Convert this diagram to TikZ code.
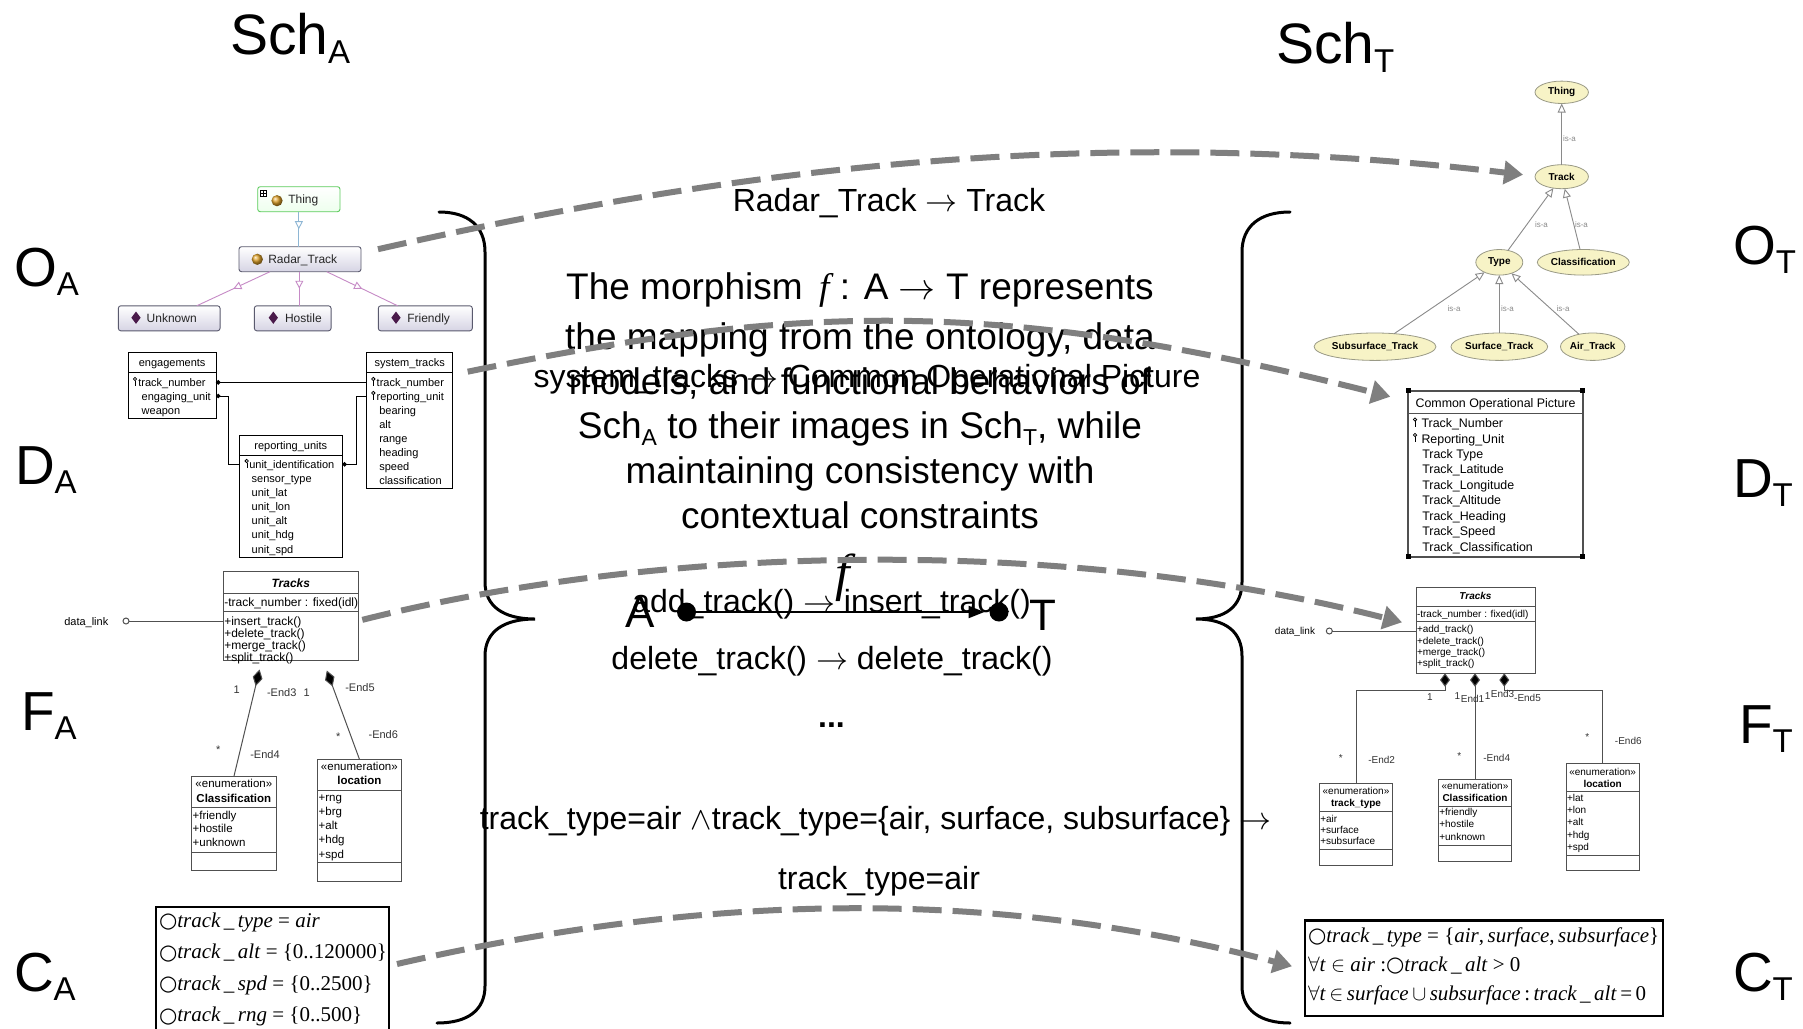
\RequirePackage{fix-cm}
\documentclass[tikz,border=0pt]{standalone}
\usepackage{fontspec}
\usepackage{graphicx}
\setmainfont{Liberation Sans}
\newfontfamily\tnr{Liberation Serif}
\newfontfamily\dvs{DejaVu Sans}
\usetikzlibrary{arrows.meta,decorations.markings,calc,shapes.geometric}

\newcommand\fs[1]{\fontsize{#1}{#1}\selectfont}
\newcommand\lbl[2]{#1\raisebox{-9pt}{\fs{33}#2}}
\newcommand\psub[2]{#1\raisebox{-7pt}{\fs{23}#2}}
\newcommand\alw{{\dvs\fs{21}\raisebox{-0.5pt}{○}}}
\newcommand\us{\,\_\,}
\newcommand\erkey[2]{\draw[line width=0.75pt] (#1,#2) circle (1.7pt); \draw[line width=0.75pt] (#1+0.3,#2+1.7) -- (#1+0.3,#2+7);}

\definecolor{mapgray}{HTML}{7F7F7F}
\definecolor{owlline}{HTML}{5A5A6E}
\definecolor{owlfill}{HTML}{D6D4E4}
\definecolor{thinggreen}{HTML}{5CCB5C}
\definecolor{orangedot}{HTML}{E0A228}
\definecolor{indiv}{HTML}{4A1A4A}
\definecolor{subblue}{HTML}{8EB6D4}
\definecolor{subpink}{HTML}{C68AC6}
\definecolor{ellfill}{HTML}{F7F3C6}
\definecolor{ellline}{HTML}{9A9A86}
\definecolor{umlgray}{HTML}{505050}
\definecolor{isagray}{HTML}{8A8A8A}
\definecolor{lblgray}{HTML}{333333}

\tikzset{
  ctxt/.style={font=\fs{32},anchor=base},
  ptxt/.style={font=\fs{37},anchor=base},
  sidelbl/.style={font=\fs{55},anchor=base west},
  maparrow/.style={draw=mapgray,line width=6pt,dash pattern=on 29pt off 11pt,-{Triangle[length=19pt,width=23pt]}},
  bracestroke/.style={line width=3pt,line cap=round},
  owlbox/.style={draw=owlline,line width=0.9pt,rounded corners=2.5pt,top color=white,bottom color=owlfill,minimum height=25pt},
  owltxt/.style={font=\fs{12},anchor=base west,text=black!85},
  owlsub/.style={line width=0.9pt,postaction={decorate},decoration={markings,mark=at position 0.5 with {\arrow{Triangle[length=8pt,width=8pt,fill=white]}}}},
  ertab/.style={draw=black,line width=1pt,fill=white},
  ertxt/.style={font=\fs{11},anchor=base west},
  erhead/.style={font=\fs{11},anchor=base},
  erline/.style={draw=black,line width=1pt},
  umlbox/.style={draw=umlgray,line width=1pt,fill=white},
  umledge/.style={draw=umlgray,line width=1pt},
  umlA/.style={font=\fs{12},anchor=base west},
  umlT/.style={font=\fs{10},anchor=base west},
  enumA/.style={font=\fs{11.5},anchor=base west},
  enumT/.style={font=\fs{10},anchor=base west},
  endA/.style={font=\fs{11},anchor=base,text=lblgray},
  endT/.style={font=\fs{10},anchor=base,text=lblgray},
  ell/.style={ellipse,draw=ellline,line width=0.8pt,fill=ellfill,font=\bfseries\fs{10}},
  isa/.style={draw=isagray,line width=0.9pt,-{Triangle[length=9pt,width=8pt,fill=white]}},
  isalbl/.style={font=\fs{8},text=isagray,anchor=base west},
  cbox/.style={draw=black,line width=2.5pt},
  ctext/.style={font=\tnr\fs{21},anchor=base west},
}

\begin{document}
\begin{tikzpicture}[x=1pt,y=-1pt,every node/.style={inner sep=0pt,outer sep=0pt}]
\useasboundingbox (0,0) rectangle (1803,1028);
\fill[white] (0,0) rectangle (1803,1028);

% ---------- headings and row labels ----------
\node[anchor=base west,font=\fs{57}] (schA) at (230,54) {\lbl{Sch}{A}};
\node[anchor=base west,font=\fs{57}] (schT) at (1276,63) {\lbl{Sch}{T}};
\node[sidelbl] (oA) at (14,286) {\lbl{O}{A}};
\node[sidelbl] (dA) at (15,484) {\lbl{D}{A}};
\node[sidelbl] (fA) at (21,730) {\lbl{F}{A}};
\node[sidelbl] (cAl) at (14,991) {\lbl{C}{A}};
\node[sidelbl] (oT) at (1733,264) {\lbl{O}{T}};
\node[sidelbl] (dT) at (1733,497) {\lbl{D}{T}};
\node[sidelbl] (fT) at (1739,743) {\lbl{F}{T}};
\node[sidelbl] (cTl) at (1733,991) {\lbl{C}{T}};

% ---------- braces ----------
\draw[bracestroke] (439,212) .. controls (468,212) and (485,226) .. (485,252) -- (485,582)
  .. controls (485,606) and (503,619) .. (535,619) .. controls (503,619) and (485,632) .. (485,656)
  -- (485,986) .. controls (485,1010) and (468,1023) .. (437,1023);
\draw[bracestroke] (1290,212) .. controls (1260,212) and (1242,226) .. (1242,252) -- (1242,582)
  .. controls (1242,606) and (1226,619) .. (1196,619) .. controls (1226,619) and (1242,632) .. (1242,656)
  -- (1242,986) .. controls (1242,1010) and (1260,1023) .. (1290,1023);

% ---------- source ontology ----------
\node[owlbox,draw=thinggreen,bottom color=green!7,minimum width=82.3pt] (thingA) at (298.85,199.2) {};
\node[owlbox,minimum width=122pt] (radarA) at (300,259.2) {};
\node[owlbox,minimum width=101.7pt] (unkA) at (169.2,318.3) {};
\node[owlbox,minimum width=76.7pt] (hostA) at (292.7,318.3) {};
\node[owlbox,minimum width=94pt] (friA) at (425.3,318.3) {};
\draw[line width=0.6pt,fill=white] (260,190) rectangle (266.7,196.7);
\draw[line width=0.6pt] (261.2,193.35) -- (265.5,193.35) (263.35,191.2) -- (263.35,195.5);
\shade[ball color=orangedot] (277,200.7) circle (5.6pt);
\shade[ball color=orangedot] (257.3,259.3) circle (5.6pt);
\node[owltxt] (thingAt) at (288.3,203.4) {Thing};
\node[owltxt] (radarAt) at (268.3,263.5) {Radar\_Track};
\foreach \cx/\nm/\tx/\tt in {136/unk/146.7/Unknown,273.3/host/285/Hostile,396/fri/407.3/Friendly}{
  \fill[indiv] (\cx,311.5) -- (\cx+4.6,317.7) -- (\cx,323.9) -- (\cx-4.6,317.7) -- cycle;
  \node[owltxt] (\nm At) at (\tx,322.5) {\tt};
}
\draw[owlsub,subblue] (thingA.south) -- (thingA.south |- radarA.north);
\draw[owlsub,subpink] ($(radarA.south)+(-30,0)$) -- ($(unkA.north)+(27.5,0)$);
\draw[owlsub,subpink] ($(radarA.south)+(-0.7,0)$) -- ($(hostA.north)+(6.6,0)$);
\draw[owlsub,subpink] ($(radarA.south)+(26.7,0)$) -- ($(friA.north)+(-27.6,0)$);

% ---------- source data model ----------
\node[ertab,minimum width=87.7pt,minimum height=65.6pt] (engA) at (172.15,385.5) {};
\node[ertab,minimum width=86pt,minimum height=135.6pt] (stA) at (409.7,420.5) {};
\node[ertab,minimum width=103pt,minimum height=122.3pt] (rpA) at (290.8,496.15) {};
\foreach \b in {engA,stA,rpA}{\draw[line width=1pt] ($(\b.north west)+(0,20)$) -- ($(\b.north east)+(0,20)$);}
\node[erhead] (engH) at (172.15,366.5) {engagements};
\node[erhead] (stH) at (409.7,366.5) {system\_tracks};
\node[erhead] (rpH) at (290.8,449) {reporting\_units};
\node[ertxt] (eng0) at (138.3,386.3) {track\_number};
\node[ertxt] (eng1) at (141.7,400.1) {engaging\_unit};
\node[ertxt] (eng2) at (141.7,414) {weapon};
\node[ertxt] (st0) at (376.7,386.3) {track\_number};
\node[ertxt] (st1) at (376.7,400.3) {reporting\_unit};
\foreach \t [count=\i from 2] in {bearing,alt,range,heading,speed,classification}{
  \node[ertxt] (st\i) at (379.3,386.3+\i*13.96) {\t};}
\node[ertxt] (rp0) at (249.3,468.3) {unit\_identification};
\foreach \t [count=\i from 1] in {sensor\_type,unit\_lat,unit\_lon,unit\_alt,unit\_hdg,unit\_spd}{
  \node[ertxt] (rp\i) at (251.7,468.3+\i*14.12) {\t};}
\erkey{135}{379}
\erkey{373.3}{379}
\erkey{373.3}{393}
\erkey{246.7}{461}
\coordinate (rowa) at (0,382.3);
\coordinate (rowb) at (0,396);
\coordinate (rowc) at (0,464.3);
\draw[erline,{Circle[length=4.5pt]}-] (engA.east |- rowa) -- (stA.west |- rowa);
\draw[erline,{Circle[length=4.5pt]}-] (engA.east |- rowb) -- ++(12,0) |- (rpA.west |- rowc);
\draw[erline,{Circle[length=4.5pt]}-] (rpA.east |- rowc) -- ++(14.4,0) |- (stA.west |- rowb);

% ---------- source functional model ----------
\node[umlbox,minimum width=135pt,minimum height=88.3pt] (trkA) at (290.8,615.85) {};
\draw[umledge] ($(trkA.north west)+(0,21.6)$) -- ($(trkA.north east)+(0,21.6)$);
\draw[umledge] ($(trkA.north west)+(0,39.3)$) -- ($(trkA.north east)+(0,39.3)$);
\node[font=\bfseries\itshape\fs{12},anchor=base] (trkAt) at (290.8,587) {Tracks};
\node[umlA] (trkAa) at (224.3,606) {-track\_number : fixed(idl)};
\foreach \t [count=\i from 0] in {+insert\_track(),+delete\_track(),+merge\_track(),+split\_track()}{
  \node[umlA] (trkAm\i) at (224.3,625.3+\i*11.9) {\t};}
\node[font=\fs{11},anchor=base east] (dlA) at (108.3,625) {data\_link};
\node[circle,draw=umlgray,line width=1pt,fill=white,minimum size=6pt] (dlcA) at (126,621) {};
\draw[umledge] (dlcA) -- (dlcA -| trkA.west);

\node[umlbox,minimum width=84.3pt,minimum height=93.3pt] (clsA) at (233.85,823.35) {};
\draw[umledge] ($(clsA.north west)+(0,30.6)$) -- ($(clsA.north east)+(0,30.6)$);
\draw[umledge] ($(clsA.north west)+(0,75.6)$) -- ($(clsA.north east)+(0,75.6)$);
\node[font=\fs{11.5},anchor=base] (clsAs) at (233.85,787.3) {«enumeration»};
\node[font=\bfseries\fs{11.5},anchor=base] (clsAn) at (233.85,802.5) {Classification};
\foreach \t [count=\i from 0] in {+friendly,+hostile,+unknown}{
  \node[enumA] (clsAr\i) at (192.7,819+\i*13.85) {\t};}

\node[umlbox,minimum width=83.3pt,minimum height=122pt] (locA) at (359.35,820) {};
\draw[umledge] ($(locA.north west)+(0,31)$) -- ($(locA.north east)+(0,31)$);
\draw[umledge] ($(locA.north west)+(0,103.7)$) -- ($(locA.north east)+(0,103.7)$);
\node[font=\fs{11.5},anchor=base] (locAs) at (359.35,770.7) {«enumeration»};
\node[font=\bfseries\fs{11.5},anchor=base] (locAn) at (359.35,784.9) {location};
\foreach \t [count=\i from 0] in {+rng,+brg,+alt,+hdg,+spd}{
  \node[enumA] (locAr\i) at (318.7,801.3+\i*14.2) {\t};}

\coordinate (dgA1) at (259.6,669.5);
\coordinate (dgA2) at (326.8,670.5);
\draw[umledge,{Diamond[length=17pt,width=10pt,fill=black]}-] (dgA1) -- (clsA.north);
\draw[umledge,{Diamond[length=17pt,width=10pt,fill=black]}-] (dgA2) -- (locA.north);
\node[endA] (eA1) at (236.7,693) {1};
\node[endA] (eA2) at (281.7,696.5) {-End3};
\node[endA] (eA3) at (306.7,696.5) {1};
\node[endA] (eA4) at (360,691) {-End5};
\node[endA] (eA5) at (218.3,753) {*};
\node[endA] (eA6) at (265,758) {-End4};
\node[endA] (eA7) at (338.3,740) {*};
\node[endA] (eA8) at (383.3,738) {-End6};

% ---------- source constraints ----------
\node[cbox,minimum width=233pt,minimum height=133pt] (cA) at (272.5,973.5) {};
\node[ctext] (cA1) at (159,927) {\alw\textit{track\us type} = \textit{air}};
\node[ctext] (cA2) at (159,958.5) {\alw\textit{track\us alt} = \{0..120000\}};
\node[ctext] (cA3) at (159,990) {\alw\textit{track\us spd} = \{0..2500\}};
\node[ctext] (cA4) at (159,1021.5) {\alw\textit{track\us rng} = \{0..500\}};

% ---------- target ontology ----------
\node[ell,minimum width=53.4pt,minimum height=22.4pt] (thingT) at (1561.7,92.3) {Thing};
\node[ell,minimum width=53.4pt,minimum height=24pt] (trackT) at (1561.7,176.7) {Track};
\node[ell,minimum width=47pt,minimum height=25.6pt] (typeT) at (1499.3,262.3) {Type};
\node[ell,minimum width=90pt,minimum height=25.6pt] (classT) at (1583.3,262.3) {Classification};
\node[ell,minimum width=106.6pt,minimum height=27.4pt] (subT) at (1375,346.7) {Subsurface\_Track};
\node[ell,minimum width=87.6pt,minimum height=27.4pt] (surfT) at (1499.3,346.7) {Surface\_Track};
\node[ell,minimum width=63.4pt,minimum height=27.4pt] (airT) at (1592.7,346.7) {Air\_Track};
\draw[isa] (trackT) -- (thingT);
\draw[isa] (typeT) -- (trackT);
\draw[isa] (classT) -- (trackT);
\draw[isa] (subT) -- (typeT);
\draw[isa] (surfT) -- (typeT);
\draw[isa] (airT) -- (typeT);
\node[isalbl] (isa1) at (1563,141) {is-a};
\node[isalbl] (isa2) at (1535,227) {is-a};
\node[isalbl] (isa3) at (1575,227) {is-a};
\node[isalbl] (isa4) at (1447.7,311) {is-a};
\node[isalbl] (isa5) at (1501,311) {is-a};
\node[isalbl] (isa6) at (1556.7,311) {is-a};

% ---------- target data model ----------
\node[draw=umlgray,line width=1.8pt,fill=white,minimum width=174.4pt,minimum height=166pt] (copT) at (1495.5,473.7) {};
\draw[umlgray,line width=1.2pt] ($(copT.north west)+(0,22.6)$) -- ($(copT.north east)+(0,22.6)$);
\foreach \c in {north west,north east,south west,south east}{\fill (copT.\c) ++(-2.6,-2.6) rectangle ++(5.2,5.2);}
\node[font=\fs{12.4},anchor=base] (copH) at (1495.5,407) {Common Operational Picture};
\node[font=\fs{12.4},anchor=base west] (cop0) at (1421.5,427.6) {Track\_Number};
\node[font=\fs{12.4},anchor=base west] (cop1) at (1421.5,443) {Reporting\_Unit};
\foreach \t [count=\i from 2] in {Track Type,Track\_Latitude,Track\_Longitude,Track\_Altitude,Track\_Heading,Track\_Speed,Track\_Classification}{
  \node[font=\fs{12.4},anchor=base west] (cop\i) at (1422.3,427.6+\i*15.43) {\t};}
\erkey{1415}{419.5}
\erkey{1415}{435}

% ---------- target functional model ----------
\node[umlbox,minimum width=119pt,minimum height=86pt] (trkT) at (1475.5,630.3) {};
\draw[umledge] ($(trkT.north west)+(0,18.7)$) -- ($(trkT.north east)+(0,18.7)$);
\draw[umledge] ($(trkT.north west)+(0,34.4)$) -- ($(trkT.north east)+(0,34.4)$);
\node[font=\bfseries\itshape\fs{10},anchor=base] (trkTt) at (1475.5,599.3) {Tracks};
\node[umlT] (trkTa) at (1417,617) {-track\_number : fixed(idl)};
\foreach \t [count=\i from 0] in {+add\_track(),+delete\_track(),+merge\_track(),+split\_track()}{
  \node[umlT] (trkTm\i) at (1417,632.7+\i*11.4) {\t};}
\node[font=\fs{10},anchor=base east] (dlT) at (1315,634.5) {data\_link};
\node[circle,draw=umlgray,line width=1pt,fill=white,minimum size=6pt] (dlcT) at (1329.3,631) {};
\draw[umledge] (dlcT) -- (dlcT -| trkT.west);

\node[umlbox,minimum width=73.4pt,minimum height=81.7pt] (ttT) at (1356,824.15) {};
\draw[umledge] ($(ttT.north west)+(0,28.4)$) -- ($(ttT.north east)+(0,28.4)$);
\draw[umledge] ($(ttT.north west)+(0,65.7)$) -- ($(ttT.north east)+(0,65.7)$);
\node[font=\fs{10},anchor=base] (ttTs) at (1356,794.5) {«enumeration»};
\node[font=\bfseries\fs{10},anchor=base] (ttTn) at (1356,806.5) {track\_type};
\foreach \t [count=\i from 0] in {+air,+surface,+subsurface}{
  \node[enumT] (ttTr\i) at (1320.3,822+\i*11.4) {\t};}

\node[umlbox,minimum width=73.4pt,minimum height=82pt] (clsT) at (1475,820) {};
\draw[umledge] ($(clsT.north west)+(0,27)$) -- ($(clsT.north east)+(0,27)$);
\draw[umledge] ($(clsT.north west)+(0,66)$) -- ($(clsT.north east)+(0,66)$);
\node[font=\fs{10},anchor=base] (clsTs) at (1475,789.2) {«enumeration»};
\node[font=\bfseries\fs{10},anchor=base] (clsTn) at (1475,801.5) {Classification};
\foreach \t [count=\i from 0] in {+friendly,+hostile,+unknown}{
  \node[enumT] (clsTr\i) at (1439.3,815.5+\i*12.4) {\t};}

\node[umlbox,minimum width=73.3pt,minimum height=106.7pt] (locT) at (1602.65,816.65) {};
\draw[umledge] ($(locT.north west)+(0,28.4)$) -- ($(locT.north east)+(0,28.4)$);
\draw[umledge] ($(locT.north west)+(0,91.7)$) -- ($(locT.north east)+(0,91.7)$);
\node[font=\fs{10},anchor=base] (locTs) at (1602.65,775.2) {«enumeration»};
\node[font=\bfseries\fs{10},anchor=base] (locTn) at (1602.65,787) {location};
\foreach \t [count=\i from 0] in {+lat,+lon,+alt,+hdg,+spd}{
  \node[enumT] (locTr\i) at (1567,801.4+\i*12.2) {\t};}

\coordinate (dgT1) at (1445,673.3);
\coordinate (dgT2) at (1475,673.3);
\coordinate (dgT3) at (1504.3,673.3);
\draw[umledge,{Diamond[length=13.4pt,width=10pt,fill=black]}-] (dgT1) -- ++(0,16.7) -| (ttT.north);
\draw[umledge,{Diamond[length=13.4pt,width=10pt,fill=black]}-] (dgT2) -- (clsT.north);
\draw[umledge,{Diamond[length=13.4pt,width=10pt,fill=black]}-] (dgT3) -- ++(0,16.7) -| (locT.north);
\node[endT] (eT1) at (1430,700) {1};
\node[endT] (eT2) at (1457.3,699) {1};
\node[endT] (eT3) at (1472.5,702) {End1};
\node[endT] (eT4) at (1487.7,699) {1};
\node[endT] (eT5) at (1502.5,697) {End3};
\node[endT] (eT6) at (1527.5,701) {-End5};
\node[endT] (eT7) at (1340.7,761) {*};
\node[endT] (eT8) at (1381.7,763) {-End2};
\node[endT] (eT9) at (1459.3,759) {*};
\node[endT] (eT10) at (1496.7,761) {-End4};
\node[endT] (eT11) at (1587.3,740.5) {*};
\node[endT] (eT12) at (1628.3,744.5) {-End6};

% ---------- target constraints ----------
\node[cbox,minimum width=358pt,minimum height=95.5pt] (cT) at (1484,968.25) {};
\node[ctext] (cT1) at (1308,942) {\alw\textit{track\us type} = \{\textit{air},\,\textit{surface},\,\textit{subsurface}\}};
\node[ctext] (cT2) at (1308,971) {$\forall$\textit{t} $\in$ \textit{air} :\alw\textit{track\us alt} > 0};
\node[ctext] (cT3) at (1308,1000) {$\forall$\textit{t}\,$\in$\,\textit{surface}\,$\cup$\,\textit{subsurface}\,:\,\textit{track\us alt}\,=\,0};

% ---------- morphism texts ----------
\node[ctxt] (mapO) at (889,211.5) {Radar\_Track $\rightarrow$ Track};
\node[ptxt] (p1) at (860,299) {The morphism \,{\tnr\itshape f\/}\,: A $\rightarrow$ T represents};
\node[ptxt] (p2) at (860,349) {the mapping from the ontology, data};
\node[ptxt] (p3) at (860,394) {models, and functional behaviors of};
\node[ptxt] (p4) at (860,438.5) {\psub{Sch}{A} to their images in \psub{Sch}{T}, while};
\node[ptxt] (p5) at (860,483) {maintaining consistency with};
\node[ptxt] (p6) at (860,528) {contextual constraints};
\node[ctxt] (mapD) at (867,387) {system\_tracks $\rightarrow$ Common Operational Picture};
\node[ctxt] (mapF1) at (831.5,612) {add\_track() $\rightarrow$ insert\_track()};
\node[ctxt] (mapF2) at (832,669) {delete\_track() $\rightarrow$ delete\_track()};
\node[ctxt,font=\bfseries\fs{32}] (mapF3) at (831.5,727) {...};
\node[ctxt] (mapC1) at (875.5,829) {track\_type=air $\wedge$track\_type=\{air, surface, subsurface\} $\rightarrow$};
\node[ctxt] (mapC2) at (879,889) {track\_type=air};

% morphism f between the two schemas
\node[font=\fs{44},anchor=base] (objA) at (640,627) {A};
\node[font=\fs{44},anchor=base] (objT) at (1043,630) {T};
\node[circle,fill=black,minimum size=19pt] (dotA) at (686.5,612) {};
\node[circle,fill=black,minimum size=19pt] (dotT) at (999,612) {};
\draw[line width=2.2pt,-{Triangle[length=16pt,width=12pt]},shorten >=5pt] (dotA) -- (dotT);
\node[font=\tnr\itshape\fs{52},anchor=base] (fmap) at (843,590) {f};

% ---------- correspondence arrows ----------
\draw[maparrow] ($(radarA.east)+(17,-10)$) .. controls (750,165) and (1100,125) .. ($(trackT.west)+(-12,-2)$);
\draw[maparrow] ($(stA.north east)+(15,19)$) .. controls (800,303) and (1000,298) .. ($(copT.north west)+(-18,6)$);
\draw[maparrow] ($(trkA.east)+(4,4)$) .. controls (680,540) and (1080,540) .. ($(trkT.west)+(-14,-8)$);
\draw[maparrow] ($(cA.north east)+(8,57)$) .. controls (720,890) and (1000,890) .. ($(cT.west)+(-13,-2)$);
\end{tikzpicture}
\end{document}
